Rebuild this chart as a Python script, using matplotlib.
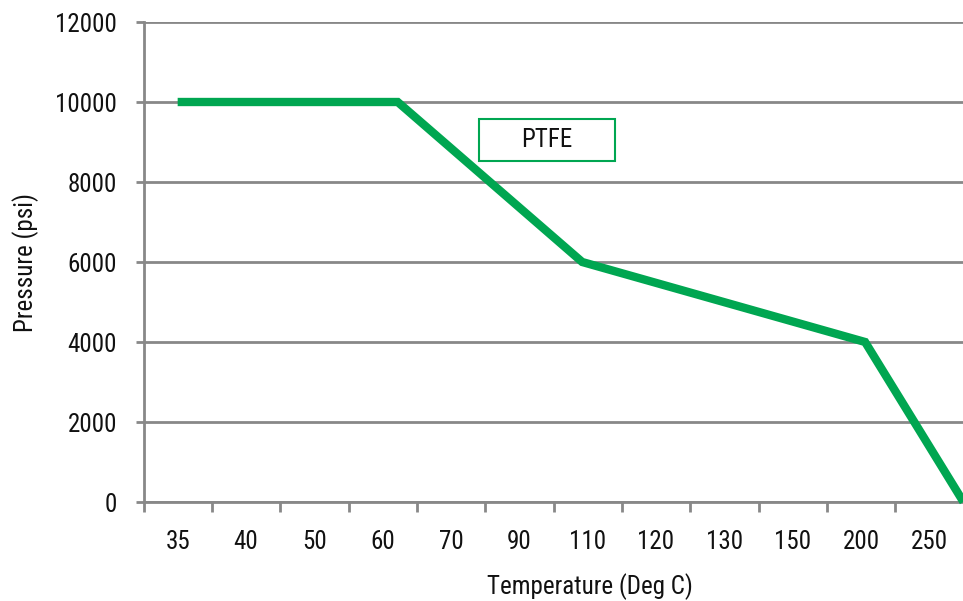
import matplotlib
matplotlib.use("Agg")
import matplotlib.pyplot as plt
from matplotlib.patches import Rectangle

plt.rcParams['font.family'] = ['Liberation Sans Narrow', 'Roboto Condensed', 'Liberation Sans', 'DejaVu Sans']

CATEGORIES = ['35', '40', '50', '60', '70', '90', '110', '120', '130', '150', '200', '250']
# line vertices, x given in category positions (0 = first category)
LINE_X = [0, 3.22, 5.92, 10.06, 11.5]
LINE_Y = [10000, 10000, 6000, 4000, 0]
Y_TICKS = [0, 2000, 4000, 6000, 8000, 10000, 12000]
SERIES_NAME = 'PTFE'

GREEN = '#00a651'
GRAY = '#888888'

fig = plt.figure(figsize=(9.63, 6.01), dpi=100)
W, H = 963, 601
ax = fig.add_axes([143.5 / W, (H - 502) / H, 820 / W, 480 / H])

ax.plot(LINE_X, LINE_Y, color=GREEN, linewidth=6, solid_capstyle='butt',
        solid_joinstyle='miter', zorder=3, clip_on=False)

ax.set_xlim(-0.5, len(CATEGORIES) - 0.5)
ax.set_ylim(0, 12000)

ax.set_xticks(range(len(CATEGORIES)))
ax.set_xticklabels(CATEGORIES)
ax.set_xticks([i - 0.5 for i in range(len(CATEGORIES) + 1)], minor=True)
ax.tick_params(axis='x', which='major', length=0, pad=20, labelsize=18, labelcolor='#111111')
ax.tick_params(axis='x', which='minor', length=7, width=2, color=GRAY, direction='out')

ax.set_yticks(Y_TICKS)
ax.set_yticklabels([str(v) for v in Y_TICKS])
ax.tick_params(axis='y', length=6, width=2, color=GRAY, pad=13, labelsize=18, labelcolor='#111111')

ax.grid(axis='y', color=GRAY, linewidth=2)
ax.set_axisbelow(True)
for s in ['top', 'right']:
    ax.spines[s].set_visible(False)
for s in ['left', 'bottom']:
    ax.spines[s].set_color(GRAY)
    ax.spines[s].set_linewidth(2)

ax.set_xlabel('Temperature (Deg C)', fontsize=18, color='#111111')
ax.xaxis.set_label_coords((590 - 143.5) / 820, -0.148)
ax.set_ylabel('Pressure (psi)', fontsize=18, labelpad=12, color='#111111')

# legend-like box
box = Rectangle((0.409, 0.710), 0.166, 0.0875, transform=ax.transAxes,
                facecolor='white', edgecolor=GREEN, linewidth=1.5, zorder=4)
ax.add_patch(box)
ax.text(0.409 + 0.083, 0.710 + 0.044, SERIES_NAME, transform=ax.transAxes,
        ha='center', va='center', fontsize=18, color='#111111', zorder=5)

fig.savefig('out.png', dpi=100)
